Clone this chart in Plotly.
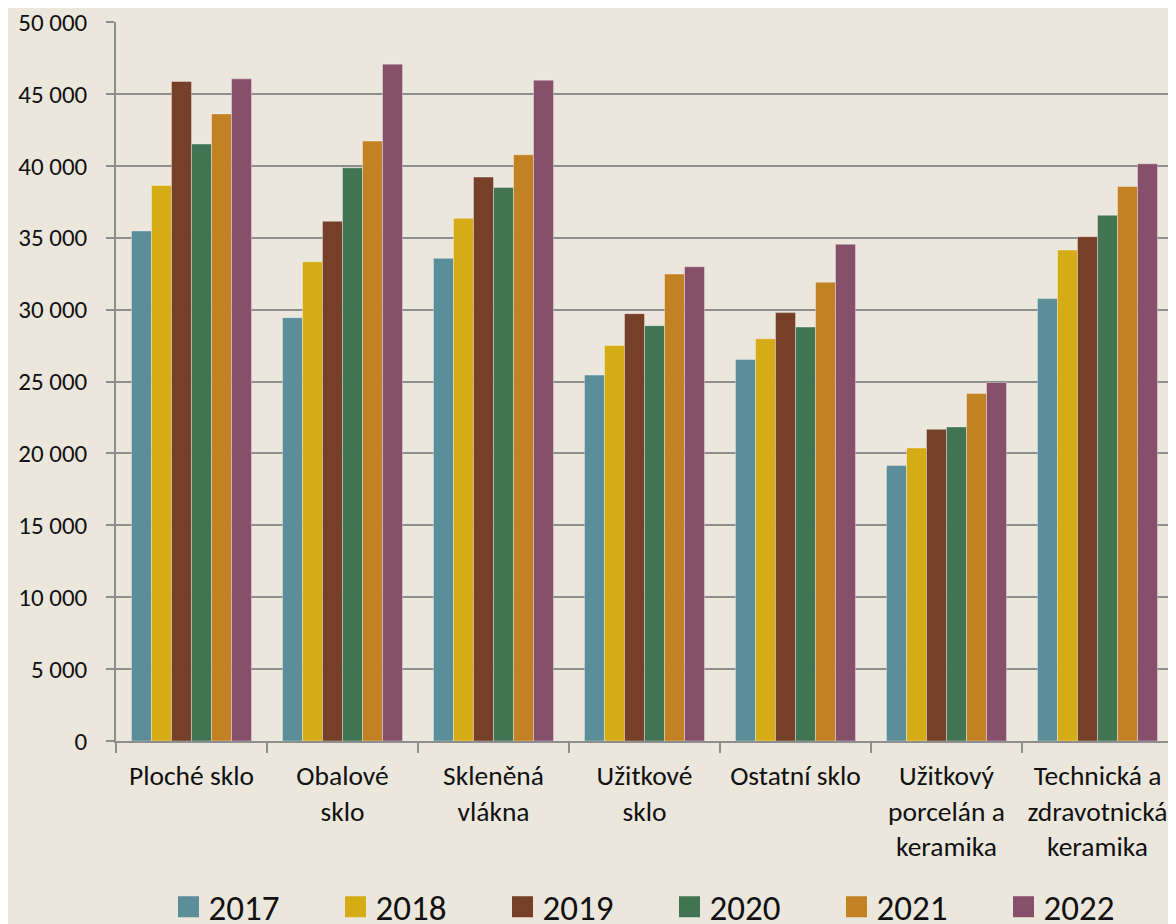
import plotly.graph_objects as go

categories = ["Ploché sklo", "Obalové<br>sklo", "Skleněná<br>vlákna", "Užitkové<br>sklo",
              "Ostatní sklo", "Užitkový<br>porcelán a<br>keramika", "Technická a<br>zdravotnická<br>keramika"]
years = ["2017", "2018", "2019", "2020", "2021", "2022"]

v2017 = [35470, 29440, 33565, 25446, 26532, 19150, 30766]
v2018 = [38635, 33330, 36350, 27507, 27974, 20376, 34143]
v2019 = [45860, 36140, 39213, 29720, 29790, 21671, 35070]
v2020 = [41510, 39860, 38496, 28880, 28788, 21838, 36560]
v2021 = [43610, 41720, 40766, 32472, 31900, 24164, 38560]
v2022 = [46045, 47070, 45954, 32980, 34540, 24930, 40140]
series = [v2017, v2018, v2019, v2020, v2021, v2022]

colors = ["#5B8E99", "#D6AC16", "#763F27", "#417453", "#C28224", "#86506A"]
y_ticks = [0, 5000, 10000, 15000, 20000, 25000, 30000, 35000, 40000, 45000, 50000]
y_labels = ["0", "5 000", "10 000", "15 000", "20 000", "25 000", "30 000", "35 000", "40 000", "45 000", "50 000"]

FONT = "Carlito, Calibri, Lato, sans-serif"
BG = "#EBE7DD"

fig = go.Figure()
for yr, vals, col in zip(years, series, colors):
    fig.add_trace(go.Bar(x=categories, y=vals, name=yr, marker_color=col,
                         marker_line=dict(color="rgba(255,255,255,0.35)", width=1),
                         showlegend=False))
for yr, col in zip(years, colors):
    fig.add_trace(go.Scatter(x=[None], y=[None], mode="markers", name=yr,
                             marker=dict(symbol="square", size=16, color=col,
                                         line=dict(color=col, width=5)),
                             showlegend=True))

fig.update_layout(
    width=1176, height=924,
    paper_bgcolor=BG, plot_bgcolor=BG,
    margin=dict(l=108, r=11, t=14, b=191, autoexpand=False),
    barmode="group", bargap=0.205, bargroupgap=0,
    font=dict(family=FONT, color="#111111"),
    legend=dict(orientation="h", xref="container", yref="container",
                x=160.5 / 1176, xanchor="left", y=1 - 899 / 924, yanchor="middle",
                font=dict(size=35, family=FONT), entrywidth=122,
                itemsizing="trace", bgcolor="rgba(0,0,0,0)"),
)
fig.update_yaxes(range=[0, 50000], tickvals=y_ticks, ticktext=y_labels,
                 showgrid=True, gridcolor="#8E8E8E", gridwidth=1.5,
                 showline=True, linecolor="#8E8E8E", linewidth=1.5,
                 ticks="outside", ticklen=8, tickcolor="#8E8E8E", tickwidth=1.5,
                 tickfont=dict(size=25, family=FONT), ticklabelstandoff=14,
                 ticklabeloverflow="allow", zeroline=False)
fig.update_xaxes(showline=True, linecolor="#8E8E8E", linewidth=1.5,
                 ticks="outside", ticklen=10, tickcolor="#8E8E8E", tickwidth=1.5,
                 tickson="boundaries", tickfont=dict(size=27.5, family=FONT),
                 tickangle=0, ticklabelstandoff=9, ticklabeloverflow="allow")

fig.write_html("out.html")
